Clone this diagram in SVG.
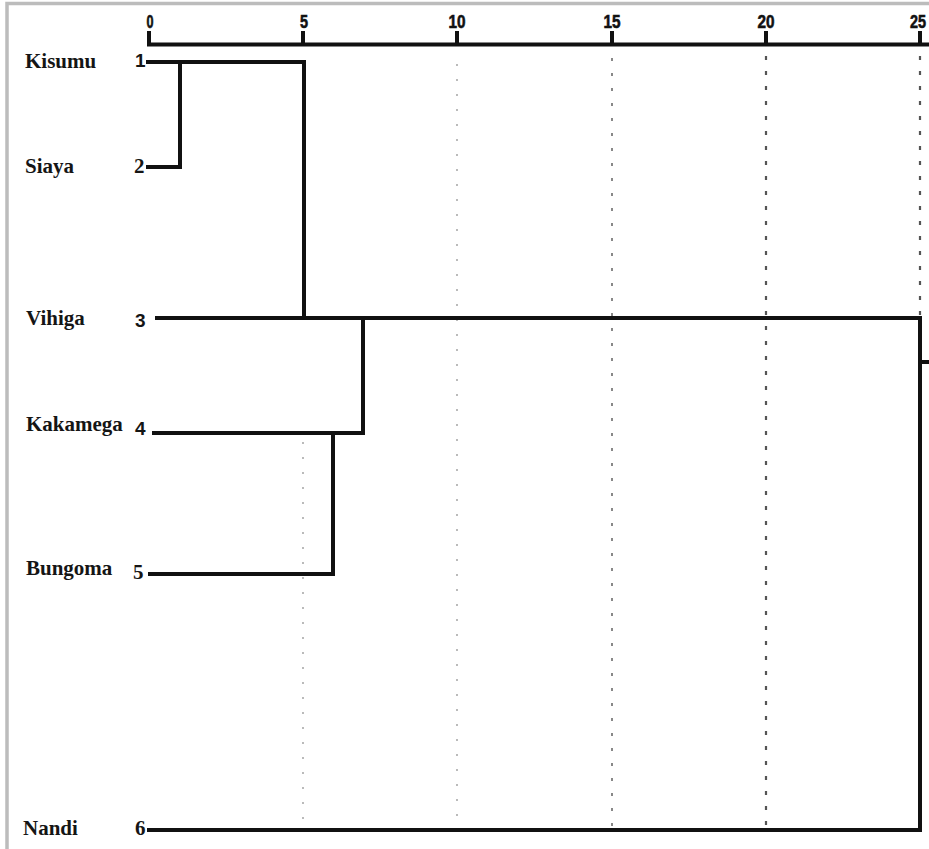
<svg xmlns="http://www.w3.org/2000/svg" width="929" height="849" viewBox="0 0 929 849">
<style>
.name{font-family:"Liberation Serif",serif;font-weight:bold;font-size:21px;fill:#151515}
.num{font-family:"Liberation Sans",sans-serif;font-weight:bold;font-size:19px;fill:#151515}
.numS{font-family:"Liberation Serif",serif;font-weight:bold;font-size:21px;fill:#151515}
.ax{font-family:"Liberation Sans",sans-serif;font-weight:bold;font-size:18px;fill:#111;stroke:#111;stroke-width:0.6;text-anchor:middle}
.ln{stroke:#111;stroke-width:4;fill:none;stroke-linecap:square}
.grid1{stroke:#aaa;stroke-width:1.6;stroke-dasharray:2 13}
.grid2{stroke:#888;stroke-width:2;stroke-dasharray:3 12}
.grid3{stroke:#555;stroke-width:2.2;stroke-dasharray:4 11}
</style>
<rect x="0" y="0" width="929" height="849" fill="#fff"/>
<path d="M7 849 V3.5 H929" stroke="#bcbcbc" stroke-width="3.5" fill="none"/>
<g id="axis">
<line class="ln" x1="149" y1="44.5" x2="929" y2="44.5" stroke-width="4"/>
<line class="ln" x1="149" y1="33" x2="149" y2="44" stroke-width="3.5"/>
<line class="ln" x1="303" y1="33" x2="303" y2="44" stroke-width="3.5"/>
<line class="ln" x1="457" y1="33" x2="457" y2="44" stroke-width="3.5"/>
<line class="ln" x1="612" y1="33" x2="612" y2="44" stroke-width="3.5"/>
<line class="ln" x1="766" y1="33" x2="766" y2="44" stroke-width="3.5"/>
<line class="ln" x1="920" y1="33" x2="920" y2="44" stroke-width="3.5"/>
<text class="ax" x="150" y="28" textLength="7" lengthAdjust="spacingAndGlyphs">0</text>
<text class="ax" x="304" y="28" textLength="8" lengthAdjust="spacingAndGlyphs">5</text>
<text class="ax" x="457" y="28" textLength="17" lengthAdjust="spacingAndGlyphs">10</text>
<text class="ax" x="612" y="28" textLength="17" lengthAdjust="spacingAndGlyphs">15</text>
<text class="ax" x="766" y="28" textLength="17" lengthAdjust="spacingAndGlyphs">20</text>
<text class="ax" x="918" y="28" textLength="16" lengthAdjust="spacingAndGlyphs">25</text>
</g>
<g id="gridlines">
<line class="grid1" x1="303" y1="442" x2="303" y2="829"/>
<line class="grid1" x1="457" y1="64" x2="457" y2="829"/>
<line class="grid2" x1="612" y1="58" x2="612" y2="829"/>
<line class="grid3" x1="766" y1="56" x2="766" y2="829"/>
<line class="grid3" x1="920" y1="56" x2="920" y2="318"/>
</g>
<g id="node-kisumu"><text class="name" x="25" y="68">Kisumu</text><text class="num" x="135" y="67">1</text></g>
<g id="node-siaya"><text class="name" x="25" y="173">Siaya</text><text class="numS" x="134" y="173">2</text></g>
<g id="node-vihiga"><text class="name" x="26" y="325">Vihiga</text><text class="num" x="135" y="327">3</text></g>
<g id="node-kakamega"><text class="name" x="26" y="431">Kakamega</text><text class="num" x="135" y="435">4</text></g>
<g id="node-bungoma"><text class="name" x="26" y="575">Bungoma</text><text class="numS" x="133" y="579">5</text></g>
<g id="node-nandi"><text class="name" x="23" y="835">Nandi</text><text class="numS" x="135" y="835">6</text></g>
<g id="connectors">
<path class="ln" d="M148 62 H304 V318"/>
<path class="ln" d="M148 167 H180 V62"/>
<path class="ln" d="M157 318 H920 V830 H149"/>
<path class="ln" d="M304 318 H363 V433 H154"/>
<path class="ln" d="M333 433 V574 H150"/>
<path class="ln" d="M920 362 H929"/>
</g>
</svg>
